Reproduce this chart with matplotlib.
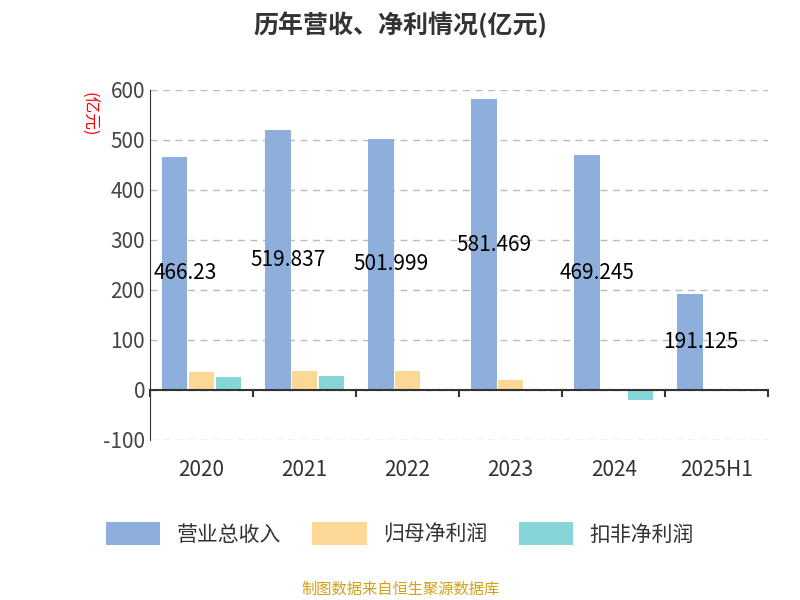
import matplotlib
matplotlib.use("Agg")
import matplotlib.pyplot as plt
import numpy as np

plt.rcParams['font.family'] = ['Noto Sans CJK SC', 'DejaVu Sans']
plt.rcParams['axes.unicode_minus'] = False

categories = ["2020", "2021", "2022", "2023", "2024", "2025H1"]
revenue = [466.23, 519.837, 501.999, 581.469, 469.245, 191.125]
net_profit = [36, 38, 37, 20, 0.5, 0.3]
deducted = [26, 28, 1.5, -3, -20, -2.5]
series_names = ["营业总收入", "归母净利润", "扣非净利润"]
colors = ["#8eaedb", "#fdd796", "#86d5d8"]

fig = plt.figure(figsize=(8, 6), dpi=100)
ax = fig.add_axes([0.1875, 0.267, 0.773, 0.583])
x = np.arange(len(categories))
w = 0.26
for i, (vals, c, n) in enumerate(zip([revenue, net_profit, deducted], colors, series_names)):
    ax.bar(x + (i - 1) * w, vals, width=w * 0.95, color=c, label=n)
for xi, v in zip(x, revenue):
    ax.text(xi - w + 0.1, v / 2, f"{v:g}", ha='center', va='center', fontsize=15, color='black')

ax.set_ylim(-100, 600)
ax.set_xlim(-0.5, len(categories) - 0.5)
ax.set_yticks(range(-100, 601, 100))
ax.tick_params(axis='y', length=0, labelsize=15, labelcolor='#444444')
ax.set_xticks(x)
ax.set_xticklabels(categories, fontsize=15, color='#333333')
ax.tick_params(axis='x', length=0, pad=14)
for b in np.arange(-0.5, len(categories), 1):
    ax.plot([b, b], [0, -12], color='#333333', lw=1.5, clip_on=False)
ax.axhline(0, color='#333333', lw=1.5)
ax.grid(axis='y', linestyle=(0, (5, 4)), color='#bbbbbb', lw=1)
ax.set_axisbelow(True)
for s in ['top', 'right', 'bottom']:
    ax.spines[s].set_visible(False)
ax.spines['left'].set_color('#333333')

fig.text(0.5, 0.958, "历年营收、净利情况(亿元)", ha='center', va='center', fontsize=18, fontweight='bold', color='#333333')
fig.text(0.11, 0.81, "(亿元)", rotation=-90, ha='center', va='center', fontsize=12, color='red')
fig.legend(loc='center', bbox_to_anchor=(0.5, 0.11), ncol=3, frameon=False, fontsize=15,
           handlelength=2.6, handleheight=1.3, columnspacing=1.5, labelcolor='#333333')
fig.text(0.5, 0.018, "制图数据来自恒生聚源数据库", ha='center', va='center', fontsize=11, color='#d4a017')
fig.savefig("out.png")
